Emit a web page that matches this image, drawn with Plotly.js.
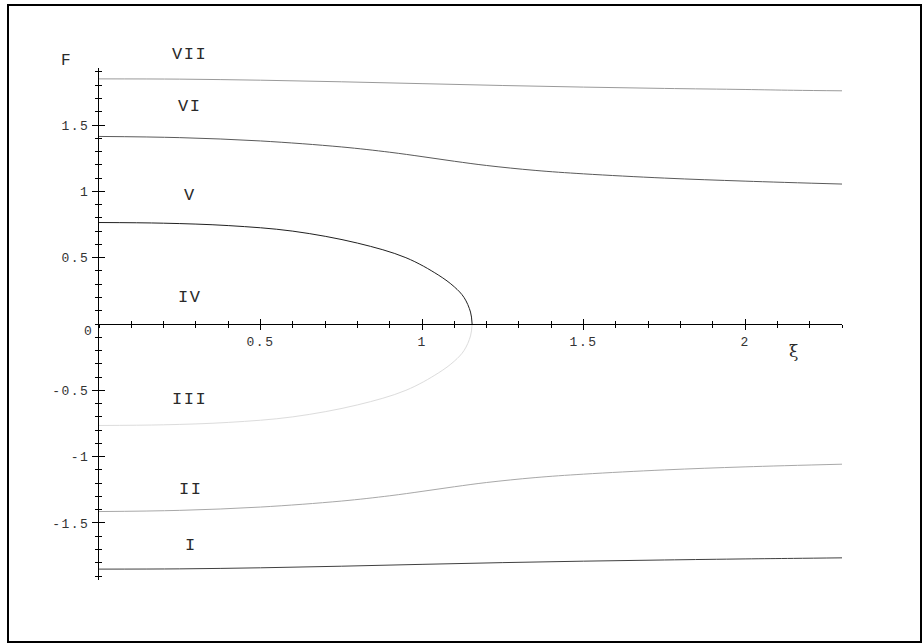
<!DOCTYPE html>
<html>
<head>
<meta charset="utf-8">
<script src="https://cdn.plot.ly/plotly-3.0.1.min.js"></script>
<style>
  html, body { margin: 0; padding: 0; background: #fff; }
  #wrap { position: relative; width: 923px; height: 644px; }
  #chart { position: absolute; left: 0; top: 0; width: 923px; height: 644px; }
  #frame { position: absolute; left: 7px; top: 4px; width: 915px; height: 639px;
           box-sizing: border-box; border: 2px solid #000; pointer-events: none; }
  .xtick text, .ytick text, .annotation-text { letter-spacing: 1.5px; }
</style>
</head>
<body>
<div id="wrap">
  <div id="chart"></div>
  <div id="frame"></div>
</div>
<script>
// Energy branches F(ξ), levels I … VII
const xVII = [0, 0.25, 0.5, 0.75, 1.0, 1.25, 1.5, 1.75, 2.0, 2.15, 2.3];
const yVII = [1.848, 1.846, 1.838, 1.826, 1.812, 1.798, 1.786, 1.776, 1.768, 1.762, 1.758];

const xVI = [0, 0.25, 0.5, 0.75, 0.9, 1.0, 1.1, 1.2, 1.35, 1.5, 1.75, 2.0, 2.3];
const yVI = [1.414, 1.405, 1.38, 1.335, 1.295, 1.262, 1.227, 1.195, 1.158, 1.132, 1.1, 1.077, 1.055];

const xV = [0, 0.2, 0.4, 0.6, 0.8, 0.95, 1.05, 1.1, 1.13, 1.15, 1.155];
const yV = [0.765, 0.76, 0.742, 0.70, 0.61, 0.50, 0.37, 0.28, 0.20, 0.09, 0];

const xIII = [0, 0.2, 0.4, 0.6, 0.8, 0.95, 1.05, 1.1, 1.13, 1.15, 1.155];
const yIII = [-0.765, -0.76, -0.742, -0.70, -0.61, -0.50, -0.37, -0.28, -0.20, -0.09, 0];

const xII = [0, 0.25, 0.5, 0.75, 0.9, 1.0, 1.1, 1.2, 1.35, 1.5, 1.75, 2.0, 2.3];
const yII = [-1.414, -1.405, -1.38, -1.335, -1.295, -1.262, -1.227, -1.195, -1.158, -1.132, -1.1, -1.077, -1.057];

const xI = [0, 0.25, 0.5, 0.75, 1.0, 1.25, 1.5, 1.75, 2.0, 2.15, 2.3];
const yI = [-1.848, -1.846, -1.838, -1.826, -1.812, -1.799, -1.788, -1.779, -1.771, -1.767, -1.763];

// Region labels (VII sits just above the top of the F range)
const regionText = ['VII', 'VI', 'V', 'IV', 'III', 'II', 'I'];
const regionX = [0.281, 0.281, 0.281, 0.281, 0.281, 0.283, 0.286];
const regionY = [2.035, 1.643, 0.968, 0.203, -0.57, -1.244, -1.673];

// Axis ticks
const xTickVals = [0.5, 1, 1.5, 2];
const xTickText = ['0.5', '1', '1.5', '2'];
const yTickVals = [-1.5, -1, -0.5, 0.5, 1, 1.5];
const yTickText = ['-1.5', '-1', '-0.5', '0.5', '1', '1.5'];

const MONO = 'Liberation Mono, DejaVu Sans Mono, monospace';

function curve(x, y, color) {
  return { x: x, y: y, type: 'scatter', mode: 'lines', hoverinfo: 'skip',
           line: { color: color, width: 1, shape: 'spline', smoothing: 1 } };
}

const traces = [
  curve(xVII, yVII, '#9a9a9a'),
  curve(xVI, yVI, '#5a5a5a'),
  curve(xV, yV, '#202020'),
  curve(xIII, yIII, '#dcdcdc'),
  curve(xII, yII, '#a8a8a8'),
  curve(xI, yI, '#404040')
];

const XR = [0, 2.3];
const YR = [-1.93, 1.93];
const PX_PER_F = 512 / (YR[1] - YR[0]);

const tickFont = { family: MONO, size: 13, color: '#333' };

// labels beyond the range are pinned to the edge and shifted in pixels
const annotations = regionText.map((t, i) => {
  const yv = Math.min(regionY[i], YR[1]);
  return {
    x: regionX[i], y: yv, xref: 'x', yref: 'y', text: t, showarrow: false,
    yshift: (regionY[i] - yv) * PX_PER_F,
    font: { family: MONO, size: 17, color: '#2a2a2a' }, xanchor: 'center', yanchor: 'middle'
  };
});
annotations.push({ x: 0, y: 0, xref: 'x', yref: 'y', text: '0', showarrow: false,
  font: tickFont, xanchor: 'right', yanchor: 'middle', xshift: -4, yshift: -7 });
annotations.push({ x: 0, y: 1.93, xref: 'x', yref: 'y', text: 'F', showarrow: false,
  font: { family: MONO, size: 16, color: '#2a2a2a' }, xanchor: 'center', yanchor: 'middle',
  xshift: -33, yshift: 7 });
annotations.push({ x: 2.15, y: 0, xref: 'x', yref: 'y', text: 'ξ', showarrow: false,
  font: { family: 'DejaVu Serif, serif', size: 17, color: '#2a2a2a' }, xanchor: 'center',
  yanchor: 'middle', xshift: 1, yshift: -27 });

const baseAxis = { showgrid: false, zeroline: false, fixedrange: true };

const layout = {
  width: 923, height: 644,
  margin: { l: 99, r: 81, t: 68, b: 64 },
  paper_bgcolor: '#fff', plot_bgcolor: 'rgba(0,0,0,0)',
  showlegend: false,
  xaxis: Object.assign({}, baseAxis, {
    range: XR, anchor: 'free', position: 0.5,
    showline: true, linecolor: '#000', linewidth: 1,
    tickmode: 'array', tickvals: xTickVals, ticktext: xTickText,
    ticks: 'outside', ticklen: 5, tickcolor: '#000', tickwidth: 1,
    tickfont: tickFont,
    minor: { tickmode: 'linear', tick0: 0, dtick: 0.1, ticks: 'outside', ticklen: 3, tickcolor: '#000', tickwidth: 1 }
  }),
  xaxis2: Object.assign({}, baseAxis, {
    range: XR, overlaying: 'x', anchor: 'free', position: 0.5, side: 'bottom',
    showline: false, showticklabels: false,
    tickmode: 'array', tickvals: xTickVals,
    ticks: 'inside', ticklen: 5, tickcolor: '#000', tickwidth: 1,
    minor: { tickmode: 'linear', tick0: 0, dtick: 0.1, ticks: 'inside', ticklen: 3, tickcolor: '#000', tickwidth: 1 }
  }),
  yaxis: Object.assign({}, baseAxis, {
    range: YR, anchor: 'x', side: 'left',
    showline: true, linecolor: '#000', linewidth: 1,
    tickmode: 'array', tickvals: yTickVals, ticktext: yTickText,
    ticks: 'outside', ticklen: 6, tickcolor: '#000', tickwidth: 1,
    tickfont: tickFont, ticklabelstandoff: 0,
    minor: { tickmode: 'linear', tick0: 0, dtick: 0.1, ticks: 'outside', ticklen: 3, tickcolor: '#000', tickwidth: 1 }
  }),
  yaxis2: Object.assign({}, baseAxis, {
    range: YR, overlaying: 'y', anchor: 'x', side: 'left',
    showline: false, showticklabels: false,
    tickmode: 'array', tickvals: yTickVals,
    ticks: 'inside', ticklen: 6, tickcolor: '#000', tickwidth: 1,
    minor: { tickmode: 'linear', tick0: 0, dtick: 0.1, ticks: 'inside', ticklen: 3, tickcolor: '#000', tickwidth: 1 }
  }),
  annotations: annotations
};

// invisible carrier so the overlay axes are drawn
traces.push({ x: [0], y: [0], xaxis: 'x2', yaxis: 'y2', type: 'scatter', mode: 'markers',
              marker: { opacity: 0 }, hoverinfo: 'skip' });

Plotly.newPlot('chart', traces, layout, { displayModeBar: false, staticPlot: true });
</script>
</body>
</html>
